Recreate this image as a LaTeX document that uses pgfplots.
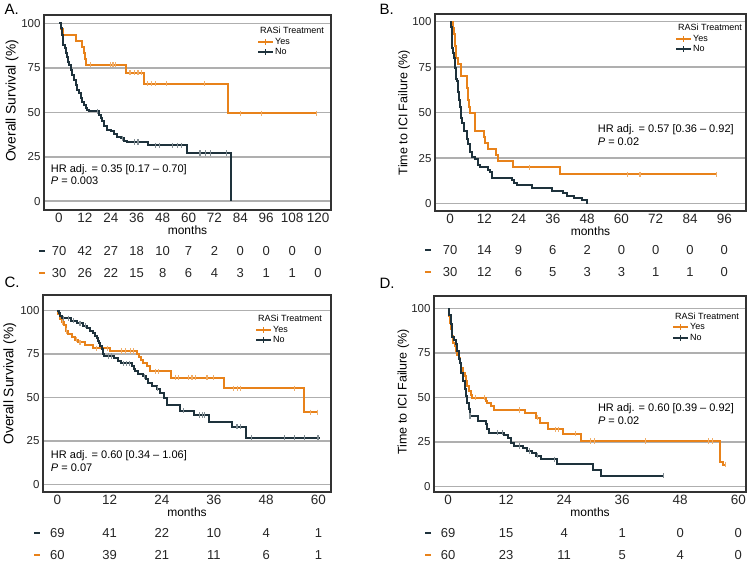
\documentclass[border=0pt]{standalone}
\usepackage{fontspec}
\setmainfont{Liberation Sans}
\usepackage{pgfplots}
\pgfplotsset{compat=1.18}

\definecolor{yesc}{HTML}{E8821A}
\definecolor{noc}{HTML}{1E323C}
\definecolor{gridc}{HTML}{AFAFAF}
\definecolor{framec}{HTML}{333333}

\tikzset{hr/.style={anchor=north west, align=left, inner sep=0pt, font=\fontsize{11bp}{12.7bp}\selectfont}}

\pgfplotsset{
  km/.style={
    scale only axis, anchor=north west, clip=false,
    axis line style={framec, line width=1.4bp},
    ymajorgrids, grid style={gridc, line width=1.6bp},
    ytick={0,25,50,75,100}, major tick length=0pt,
    /pgf/number format/assume math mode=true,
    yticklabel style={font=\fontsize{11.5bp}{13bp}\selectfont, text=black!85},
    xticklabel style={font=\fontsize{13.5bp}{15bp}\selectfont, text=black!85},
    xlabel=months,
    xlabel style={font=\fontsize{12bp}{14bp}\selectfont, yshift=4bp},
    ylabel style={anchor=center},
    legend style={draw=none, fill=none, inner sep=0pt, anchor=north east,
      font=\fontsize{9bp}{10bp}\selectfont,
      nodes={inner sep=1bp, text height=6.5bp, text depth=2bp}},
    legend cell align=left,
    legend image code/.code={\draw[mark repeat=2,mark phase=2,##1] plot coordinates {(0bp,0bp)(7.5bp,0bp)(15bp,0bp)};},
  },
  os/.style={ylabel={Overall Survival (\%)}, ylabel style={font=\fontsize{13.8bp}{15bp}\selectfont}},
  tf/.style={ylabel={Time to ICI Failure (\%)}, ylabel style={font=\fontsize{12.5bp}{15bp}\selectfont}},
  yes/.style={const plot, yesc, line width=2bp, mark=none, forget plot},
  no/.style={const plot, noc, line width=2bp, mark=none, forget plot},
  cyes/.style={only marks, mark=|, mark size=2.6bp, yesc!65, mark options={line width=1.1bp}, forget plot},
  cno/.style={only marks, mark=|, mark size=2.6bp, noc!55, mark options={line width=1.1bp}, forget plot},
  risk/.style={draw=none, mark=none, forget plot, nodes near coords, point meta=explicit symbolic,
    nodes near coords style={anchor=center, font=\fontsize{13bp}{15bp}\selectfont, text=black!85}},
  dash/.style={only marks, mark=-, mark size=3bp, mark options={line width=2bp}, forget plot},
  legyes/.style={yesc, line width=2bp, mark=|, mark size=3bp, mark options={line width=1.1bp}},
  legno/.style={noc, line width=2bp, mark=|, mark size=3bp, mark options={line width=1.1bp}},
}

\begin{document}
\begin{tikzpicture}
\useasboundingbox (0,0) rectangle (750bp,-561bp);

% ---------------- A ----------------
\begin{axis}[km, os, at={(44bp,-15bp)}, width=287bp, height=195bp,
  xmin=-6.95, xmax=126, ymin=-4.9, ymax=104.7,
  xtick={0,12,...,120},
  ylabel style={at={(axis description cs:-0.111,0.56)}},
  legend style={at={(axis description cs:1,1)}, xshift=-6bp, yshift=-11bp}]
\addlegendimage{empty legend}\addlegendentry{\hspace{-15bp}RASi Treatment}
\addlegendimage{legyes}\addlegendentry{Yes}
\addlegendimage{legno}\addlegendentry{No}
\addplot[yes] coordinates {(0,100) (0.8,96.7) (1.9,93.3) (8.0,90) (10.5,86.7) (11.5,83.3) (12.0,80) (12.5,76.7) (30.9,72.3) (39.4,66) (78.5,49.5) (119.2,49.5)};
\addplot[cyes] coordinates {(14.7,76.7) (24,76.7) (25,76.7) (26.3,76.7) (32.9,72.3) (34.8,72.3) (36.6,72.3) (38.2,72.3) (41,66) (42.8,66) (44.8,66) (49.9,66) (67.6,66) (84,49.5) (94,49.5) (119.2,49.5)};
\addplot[no] coordinates {(0,100) (0.8,97.2) (1.5,93.5) (2.0,88) (2.6,86) (3.1,83.2) (3.6,81.3) (4.2,78.5) (4.6,76.6) (5.4,73.8) (6.2,71) (7.0,68.2) (7.7,65.4) (8.5,62.6) (9.3,60.7) (10.0,57.9) (10.8,55.7) (11.6,54.2) (12.4,52.3) (13.1,51.4) (13.9,50.5) (18.5,48.6) (19.3,46.8) (20.1,44.9) (20.9,42.1) (22.4,40.2) (24.0,39.3) (25.5,37.8) (27.0,36.4) (28.6,35.5) (30.1,34.0) (31.7,33.3) (41,31.4) (59.5,27.1) (79.8,0)};
\addplot[cno] coordinates {(17.8,50.5) (29.3,35.5) (35,33.3) (36.6,33.3) (44.8,31.4) (46.4,31.4) (52.5,31.4) (54.9,31.4) (56.9,31.4) (65.3,27.1) (67.7,27.1) (70,27.1) (77.7,27.1)};
\node[hr] at (rel axis cs:0.0233,0.236) {HR adj. = 0.35 [0.17 -- 0.70]\\\textit{P} = 0.003};
\addplot[dash, noc] coordinates {(-8,-27.9)};
\addplot[dash, yesc] coordinates {(-8,-40.3)};
\addplot[risk] coordinates {(0,-27.9)[70] (12,-27.9)[42] (24,-27.9)[27] (36,-27.9)[18] (48,-27.9)[10] (60,-27.9)[7] (72,-27.9)[2] (84,-27.9)[0] (96,-27.9)[0] (108,-27.9)[0] (120,-27.9)[0]};
\addplot[risk] coordinates {(0,-40.3)[30] (12,-40.3)[26] (24,-40.3)[22] (36,-40.3)[15] (48,-40.3)[8] (60,-40.3)[6] (72,-40.3)[4] (84,-40.3)[3] (96,-40.3)[1] (108,-40.3)[1] (120,-40.3)[0]};
\end{axis}

% ---------------- B ----------------
\begin{axis}[km, tf, at={(435bp,-14bp)}, width=311bp, height=197bp,
  xmin=-5.25, xmax=103.6, ymin=-4.1, ymax=104.2,
  xtick={0,12,...,96},
  ylabel style={at={(axis description cs:-0.099,0.5)}},
  legend style={at={(axis description cs:1,1)}, xshift=-3bp, yshift=-9bp}]
\addlegendimage{empty legend}\addlegendentry{\hspace{-15bp}RASi Treatment}
\addlegendimage{legyes}\addlegendentry{Yes}
\addlegendimage{legno}\addlegendentry{No}
\addplot[yes] coordinates {(0,100) (0.93,96.7) (1.5,93.3) (1.8,90) (1.9,86.7) (2.0,83.3) (2.1,80) (2.9,76.7) (3.85,73.3) (3.9,70) (5.8,66.7) (5.9,63.3) (6.2,60) (6.3,56.7) (6.8,53.3) (7.0,50) (8.75,40) (12.0,36.7) (12.2,33.3) (13.4,30) (16.1,26.7) (16.7,23.3) (22.2,20) (38.5,16) (93.4,16)};
\addplot[cyes] coordinates {(27.8,20) (62.2,16) (66.5,16) (93.4,16)};
\addplot[no] coordinates {(0,100) (0.5,97.1) (0.6,92.9) (0.7,88.6) (0.8,85.7) (1.1,82.9) (1.4,80) (1.75,78.6) (1.85,74.3) (1.95,71.4) (2.0,68.6) (2.4,67.1) (2.7,64.3) (2.9,61.4) (3.15,57.1) (3.5,52.9) (3.85,47.1) (4.3,44.3) (5.0,40) (5.8,37.1) (6.1,35.7) (6.4,32.9) (7.0,28.6) (7.8,25.7) (8.8,24.3) (9.9,21.4) (10.5,20) (13.4,18.6) (14.0,17.1) (14.6,14.3) (21.6,12.9) (22.5,11.4) (23.3,10) (28.6,8.6) (35.6,7.1) (39.7,5.7) (40.8,4.3) (43.5,3.2) (46.1,2.1) (47.8,0)};
\node[hr] at (rel axis cs:0.523,0.44) {HR adj. = 0.57 [0.36 -- 0.92]\\\textit{P} = 0.02};
\addplot[dash, noc] coordinates {(-7.7,-25.5)};
\addplot[dash, yesc] coordinates {(-7.7,-37.6)};
\addplot[risk] coordinates {(0,-25.5)[70] (12,-25.5)[14] (24,-25.5)[9] (36,-25.5)[6] (48,-25.5)[2] (60,-25.5)[0] (72,-25.5)[0] (84,-25.5)[0] (96,-25.5)[0]};
\addplot[risk] coordinates {(0,-37.6)[30] (12,-37.6)[12] (24,-37.6)[6] (36,-37.6)[5] (48,-37.6)[3] (60,-37.6)[3] (72,-37.6)[1] (84,-37.6)[1] (96,-37.6)[0]};
\end{axis}

% ---------------- C ----------------
\begin{axis}[km, os, at={(43bp,-295bp)}, width=288bp, height=197bp,
  xmin=-3.3, xmax=62.9, ymin=-4.4, ymax=109,
  xtick={0,12,...,60},
  ylabel style={at={(axis description cs:-0.115,0.55)}},
  legend style={at={(axis description cs:1,1)}, xshift=-8bp, yshift=-19bp}]
\addlegendimage{empty legend}\addlegendentry{\hspace{-15bp}RASi Treatment}
\addlegendimage{legyes}\addlegendentry{Yes}
\addlegendimage{legno}\addlegendentry{No}
\addplot[yes] coordinates {(0,100) (0.23,98.3) (0.6,95) (1.0,93.3) (1.5,91.7) (2.0,88.3) (2.5,86.7) (3.3,85) (4.1,83.3) (4.8,81.7) (6.4,80) (8.3,78.3) (12.1,76.8) (18.2,75.2) (18.8,73.5) (19.2,71.8) (19.8,70.1) (20.5,68.4) (21.3,65) (26.1,61.4) (38.4,55.3) (56.8,41.5) (60,41.5)};
\addplot[cyes] coordinates {(1.2,93.3) (2.2,88.3) (4.3,83.3) (5.2,81.7) (9.0,78.3) (11.5,78.3) (14.8,76.8) (15.6,76.8) (16.9,76.8) (17.6,76.8) (22.5,65) (23.2,65) (27.1,61.4) (27.9,61.4) (30.2,61.4) (30.95,61.4) (31.7,61.4) (34.4,61.4) (35.9,61.4) (40.5,55.3) (41.4,55.3) (42.2,55.3) (54.5,55.3) (58.2,41.5) (59.7,41.5)};
\addplot[no] coordinates {(0,100) (0.3,98.6) (0.6,97.1) (1,95.7) (3.2,94.2) (4.5,92.8) (5.8,91.3) (6.8,89.9) (7.5,88.4) (8.3,87.0) (8.7,85.5) (9.1,84.1) (9.3,82.6) (9.5,81.2) (9.9,79.7) (10.2,78.2) (10.4,76.8) (10.6,75.3) (10.8,73.9) (13.0,72.5) (14.0,71.0) (14.7,69.6) (17.1,68.1) (17.6,66.6) (17.9,65.1) (18.6,63.6) (19.8,62.1) (20.3,60.6) (20.9,58.5) (21.7,56.5) (22.8,55) (23.6,52.5) (24.4,49.5) (25.1,45.5) (28.3,42.4) (31.4,39.9) (34.8,35.7) (40.1,33.2) (43.4,26.9) (60.3,26.9)};
\addplot[cno] coordinates {(1.4,95.7) (2.5,95.7) (3.7,94.2) (5.2,92.8) (6.5,91.3) (11.7,73.9) (12.5,73.9) (15.2,69.6) (15.9,69.6) (16.6,69.6) (20.0,62.1) (23.0,55) (29,42.4) (32.6,39.9) (33.3,39.9) (33.9,39.9) (41.3,33.2) (42.1,33.2) (44.6,26.9) (52.3,26.9) (54.5,26.9) (56.8,26.9) (59.9,26.9)};
\node[hr] at (rel axis cs:0.027,0.212) {HR adj. = 0.60 [0.34 -- 1.06]\\\textit{P} = 0.07};
\addplot[dash, noc] coordinates {(-4.7,-28.2)};
\addplot[dash, yesc] coordinates {(-4.7,-40.7)};
\addplot[risk] coordinates {(0,-28.2)[69] (12,-28.2)[41] (24,-28.2)[22] (36,-28.2)[10] (48,-28.2)[4] (60,-28.2)[1]};
\addplot[risk] coordinates {(0,-40.7)[60] (12,-40.7)[39] (24,-40.7)[21] (36,-40.7)[11] (48,-40.7)[6] (60,-40.7)[1]};
\end{axis}

% ---------------- D ----------------
\begin{axis}[km, tf, at={(434bp,-296bp)}, width=312bp, height=196bp,
  xmin=-2.9, xmax=61.6, ymin=-3.1, ymax=107.1,
  xtick={0,12,...,60},
  ylabel style={at={(axis description cs:-0.098,0.51)}},
  legend style={at={(axis description cs:1,1)}, xshift=-6bp, yshift=-15.4bp}]
\addlegendimage{empty legend}\addlegendentry{\hspace{-15bp}RASi Treatment}
\addlegendimage{legyes}\addlegendentry{Yes}
\addlegendimage{legno}\addlegendentry{No}
\addplot[yes] coordinates {(0,100) (0.2,95.7) (0.4,92) (0.55,88.3) (0.76,84.5) (1.1,80.7) (1.4,78.9) (1.65,76.1) (1.9,74.2) (2.3,72.3) (2.5,69.5) (2.75,66.7) (3.1,63.9) (3.45,62.1) (3.7,59.3) (4.0,56.4) (4.35,53.6) (4.7,51.2) (5.0,50) (7.8,48) (8.1,47.1) (8.8,45.2) (9.4,43) (15.9,41.1) (18.1,38.7) (19.0,35.9) (20.6,32.1) (23.7,29.7) (27.4,25.6) (56.3,13.5) (56.9,12.2) (57.4,12.2)};
\addplot[cyes] coordinates {(5.7,50) (7.6,50) (14.7,43) (18.5,38.7) (22.3,32.1) (22.8,32.1) (26.4,29.7) (29.5,25.6) (30.2,25.6) (40.9,25.6) (53.9,25.6) (54.6,25.6) (57.4,12.2)};
\addplot[no] coordinates {(0,100) (0.28,96.6) (0.55,91.3) (0.9,84.1) (1.24,82.6) (1.6,80) (1.93,76) (2.3,71.4) (2.5,69.5) (2.75,63.9) (3.1,59.3) (3.45,54.6) (3.8,50.8) (4.0,47.1) (4.35,43.4) (4.55,39.6) (6.1,36.8) (7.8,35) (8.1,32.1) (8.5,30.3) (11.6,29) (12.3,27.5) (13.0,24.7) (13.7,22.8) (15.4,21.9) (16.4,20) (17.4,19.1) (18.1,17.2) (19.2,15.3) (22.6,12.5) (29.9,9.2) (31.6,6) (44.6,6)};
\addplot[cno] coordinates {(4.55,39.6) (10.2,30.3) (11.2,30.3) (14.7,22.8) (16.9,20) (18.5,17.2) (22.1,15.3) (44.6,6)};
\node[hr] at (rel axis cs:0.525,0.452) {HR adj. = 0.60 [0.39 -- 0.92]\\\textit{P} = 0.02};
\addplot[dash, noc] coordinates {(-4.1,-26.1)};
\addplot[dash, yesc] coordinates {(-4.1,-38.3)};
\addplot[risk] coordinates {(0,-26.1)[69] (12,-26.1)[15] (24,-26.1)[4] (36,-26.1)[1] (48,-26.1)[0] (60,-26.1)[0]};
\addplot[risk] coordinates {(0,-38.3)[60] (12,-38.3)[23] (24,-38.3)[11] (36,-38.3)[5] (48,-38.3)[4] (60,-38.3)[0]};
\end{axis}

\node[anchor=west, font=\fontsize{15bp}{17bp}\selectfont] at (1bp,-9bp) {A.};
\node[anchor=west, font=\fontsize{15bp}{17bp}\selectfont] at (376bp,-9bp) {B.};
\node[anchor=west, font=\fontsize{15bp}{17bp}\selectfont] at (1bp,-282bp) {C.};
\node[anchor=west, font=\fontsize{15bp}{17bp}\selectfont] at (376bp,-283bp) {D.};
\end{tikzpicture}
\end{document}
